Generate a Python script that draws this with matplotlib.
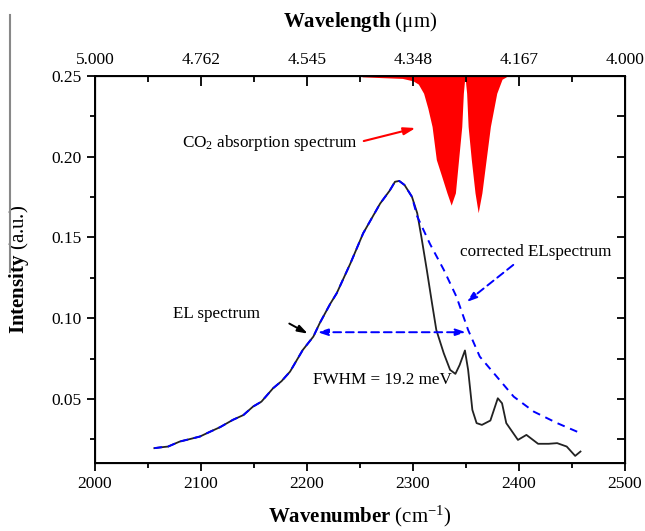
import matplotlib
matplotlib.use("Agg")
import matplotlib.pyplot as plt
from matplotlib.lines import Line2D

plt.rcParams['font.family'] = ['Liberation Serif', 'DejaVu Serif']
plt.rcParams['mathtext.fontset'] = 'custom'
plt.rcParams['mathtext.rm'] = 'Liberation Serif'
plt.rcParams['mathtext.it'] = 'Liberation Serif:italic'
plt.rcParams['mathtext.bf'] = 'Liberation Serif:bold'

# ---- data ----
el_wn = [2056, 2062, 2069, 2075, 2080, 2090, 2099, 2108, 2118, 2130, 2140, 2149, 2157,
         2168, 2176, 2184, 2196, 2206, 2212, 2222, 2228, 2241, 2253, 2269, 2278, 2283,
         2287, 2292, 2299, 2304, 2308, 2313, 2318, 2322, 2329, 2335, 2340, 2344, 2349,
         2352, 2356, 2360, 2365, 2373, 2380, 2384, 2388, 2399, 2407, 2418, 2428, 2436,
         2445, 2453, 2458]
el_val = [0.0195, 0.0200, 0.0205, 0.0222, 0.0236, 0.0252, 0.0267, 0.0295, 0.0325, 0.037,
          0.040, 0.0452, 0.0483, 0.0566, 0.0610, 0.0669, 0.0803, 0.0886, 0.0969, 0.109,
          0.1154, 0.134, 0.1526, 0.171, 0.179, 0.1845, 0.185, 0.1825, 0.1752, 0.165,
          0.150, 0.130, 0.109, 0.0927, 0.0783, 0.068, 0.0655, 0.071, 0.080, 0.068,
          0.0432, 0.035, 0.0339, 0.0366, 0.0504, 0.0473, 0.035, 0.0246, 0.0277, 0.0222,
          0.0222, 0.0226, 0.0205, 0.0147, 0.0174]

corr_tail_wn = [2304, 2316, 2329, 2341, 2352, 2363, 2379, 2395, 2414, 2436, 2458]
corr_tail_val = [0.163, 0.146, 0.130, 0.1133, 0.0927, 0.0762, 0.0638, 0.0514, 0.0421,
                 0.035, 0.0288]

co2_wn = [2252, 2270, 2290, 2300, 2305, 2310, 2314, 2318, 2322, 2327, 2332, 2336, 2340,
          2343, 2346, 2347.5, 2349, 2350.6, 2352, 2355, 2358.5, 2361.5, 2365, 2369, 2373,
          2379, 2384, 2388]
co2_val = [0.2495, 0.249, 0.2485, 0.247, 0.245, 0.2393, 0.230, 0.2187, 0.1982, 0.188,
           0.1776, 0.170, 0.1776, 0.1982, 0.2187, 0.2393, 0.25, 0.2393, 0.2187, 0.1982,
           0.1776, 0.1653, 0.1776, 0.1982, 0.2187, 0.2393, 0.248, 0.2495]

x_ticks = [2000, 2100, 2200, 2300, 2400, 2500]
top_tick_labels = ['5.000', '4.762', '4.545', '4.348', '4.167', '4.000']
y_ticks = [0.05, 0.10, 0.15, 0.20, 0.25]

# corrected spectrum: measured part up to the CO2 band, then corrected tail
corr_wn = [w for w in el_wn if w < corr_tail_wn[0]] + corr_tail_wn
corr_val = [v for w, v in zip(el_wn, el_val) if w < corr_tail_wn[0]] + corr_tail_val

fig = plt.figure(figsize=(6.45, 5.31), dpi=100)
ax = fig.add_axes([95/645, 1-463/531, 530/645, 387/531])

ax.fill_between(co2_wn, co2_val, 0.25, color='#ff0000', lw=0, zorder=1)
ax.plot(el_wn, el_val, color='#222222', lw=1.3, zorder=3)
ax.plot(corr_wn, corr_val, color='#0000ff', lw=1.4, dashes=(4, 3), zorder=4)

ax.set_xlim(2000, 2500)
ax.set_ylim(0.0103, 0.25)
ax.set_xticks(x_ticks)
ax.set_xticks(range(2050, 2500, 100), minor=True)
ax.set_yticks(y_ticks)
ax.set_yticklabels(['%.2f' % v for v in y_ticks])
ax.set_yticks([0.025, 0.075, 0.125, 0.175, 0.225], minor=True)
ax.tick_params(axis='both', which='major', labelsize=12.5, direction='out', length=6, width=1.3)
ax.tick_params(axis='both', which='minor', direction='out', length=3.5, width=1.3)
ax.tick_params(axis='y', which='both', right=False)
for s in ax.spines.values():
    s.set_linewidth(1.4)

axr = ax.twinx()
axr.set_ylim(ax.get_ylim())
axr.set_yticks(y_ticks)
axr.set_yticks([0.025, 0.075, 0.125, 0.175, 0.225], minor=True)
axr.tick_params(axis='y', which='both', direction='in', labelright=False, width=1.3, length=6)

axt = ax.twiny()
axt.set_xlim(ax.get_xlim())
axt.set_xticks(x_ticks)
axt.set_xticklabels(top_tick_labels)
axt.set_xticks(range(2050, 2500, 100), minor=True)
axt.tick_params(axis='x', which='major', direction='in', length=7, width=1.3, labelsize=12.5, pad=6)
axt.tick_params(axis='x', which='minor', direction='in', length=4, width=1.3)
axt.set_xlabel('$\\mathbf{Wavelength}$ (\u03bcm)', fontsize=15, labelpad=18)

ax.set_xlabel(r'$\mathbf{Wavenumber}$ (cm$^{-1}$)', fontsize=15, labelpad=8)
ax.set_ylabel(r'$\mathbf{Intensity}$ (a.u.)', fontsize=15, labelpad=15)

# annotations
ax.text(2082, 0.2087, r'CO$_2$ absorption spectrum', fontsize=12.3, ha='left', va='center', zorder=6)
ax.annotate('', xy=(2305, 0.2182), xytext=(2251, 0.2093),
            arrowprops=dict(arrowstyle='-|>,head_length=0.7,head_width=0.22', color='#ff0000', lw=1.5))
ax.text(2074, 0.1024, 'EL spectrum', fontsize=12.3, ha='left', va='center')
ax.annotate('', xy=(2203, 0.0896), xytext=(2181, 0.0975),
            arrowprops=dict(arrowstyle='-|>,head_length=0.6,head_width=0.2', color='black', lw=1.4))
ax.text(2206, 0.0618, 'FWHM = 19.2 meV', fontsize=12.3, ha='left', va='center')
ax.annotate('', xy=(2350, 0.0913), xytext=(2210, 0.0913),
            arrowprops=dict(arrowstyle='<|-|>,head_length=0.6,head_width=0.2', color='#0000ff',
                            lw=1.4, linestyle=(0, (4, 2.5)), shrinkA=0, shrinkB=0))
ax.text(2344, 0.141, 'corrected ELspectrum', fontsize=12.3, ha='left', va='center')
ax.annotate('', xy=(2350.6, 0.110), xytext=(2394.6, 0.133),
            arrowprops=dict(arrowstyle='-|>,head_length=0.6,head_width=0.2', color='#0000ff',
                            lw=1.4, linestyle=(0, (4, 2.5)), shrinkA=0, shrinkB=0))

# stray vertical rule at left edge of the page
fig.add_artist(Line2D([10/645, 10/645], [1-15/531, 1-272/531], color='#888888', lw=1.5,
                      transform=fig.transFigure))

fig.savefig('out.png', dpi=100)
